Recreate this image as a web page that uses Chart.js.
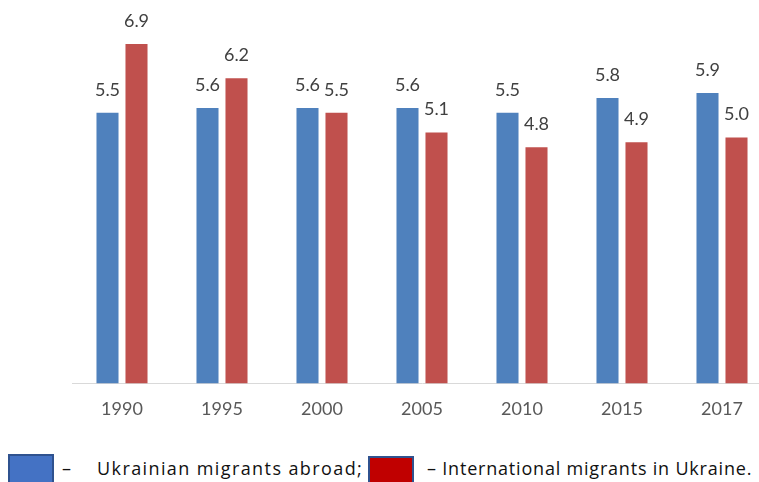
<!DOCTYPE html>
<html>
<head>
<meta charset="utf-8">
<script src="https://cdn.jsdelivr.net/npm/chart.js@4.4.1/dist/chart.umd.min.js"></script>
<style>
  html, body { margin: 0; padding: 0; background: #fff; overflow: hidden; }
  body { width: 759px; height: 482px; position: relative; font-family: "Open Sans", Lato, sans-serif; }
  #wrap { position: absolute; left: 0; top: 0; width: 800px; height: 440px; }
  .box { position: absolute; width: 46px; height: 32px; box-sizing: border-box; border: 2px solid #2F528F; }
  .txt { position: absolute; font-size: 18px; line-height: 19px; color: #111; white-space: nowrap; }
</style>
</head>
<body>
<div id="wrap"><canvas id="grafico"></canvas></div>

<div class="box" style="left:8px; top:454px; background:#4472C4;"></div>
<div class="txt" style="left:62px; top:459px;">–</div>
<div class="txt" id="leg1" style="left:97px; top:459px; letter-spacing:1.4px;">Ukrainian migrants abroad;</div>
<div class="box" style="left:368px; top:456px; background:#C00000;"></div>
<div class="txt" id="leg2" style="left:427px; top:459px; letter-spacing:0.8px;">– International migrants in Ukraine.</div>

<script>
// dados do gráfico
const anos = ["1990", "1995", "2000", "2005", "2010", "2015", "2017"];
const migrantesUcranianos = [5.5, 5.6, 5.6, 5.6, 5.5, 5.8, 5.9];
const migrantesInternacionais = [6.9, 6.2, 5.5, 5.1, 4.8, 4.9, 5.0];

// rótulos de valor em cima das barras
const rotulos = {
  id: "rotulos",
  afterDatasetsDraw(chart) {
    const ctx = chart.ctx;
    ctx.save();
    ctx.font = "18px Lato";
    ctx.fillStyle = "#404040";
    ctx.textAlign = "center";
    ctx.textBaseline = "alphabetic";
    chart.data.datasets.forEach((ds, i) => {
      chart.getDatasetMeta(i).data.forEach((bar, j) => {
        ctx.fillText(ds.data[j].toFixed(1), bar.x, bar.y - 17);
      });
    });
    ctx.restore();
  }
};

const ctx = document.getElementById("grafico").getContext("2d");
new Chart(ctx, {
  type: "bar",
  data: {
    labels: anos,
    datasets: [
      { label: "Ukrainian migrants abroad", data: migrantesUcranianos, backgroundColor: "#4F81BD" },
      { label: "International migrants in Ukraine", data: migrantesInternacionais, backgroundColor: "#C0504D" }
    ]
  },
  options: {
    responsive: true,
    maintainAspectRatio: false,
    animation: false,
    datasets: { bar: { categoryPercentage: 0.58, barPercentage: 0.76 } },
    layout: { padding: { left: 72, right: 28, top: 39, bottom: 5 } },
    plugins: { legend: { display: false }, tooltip: { enabled: false } },
    scales: {
      x: {
        grid: { display: false, drawTicks: false, tickLength: 0 },
        border: { display: true, color: "#D9D9D9", width: 1 },
        ticks: { color: "#595959", font: { family: "Lato", size: 18 }, padding: 15 }
      },
      y: { display: false, min: 0, max: 7 }
    }
  },
  plugins: [rotulos]
});
</script>
</body>
</html>
